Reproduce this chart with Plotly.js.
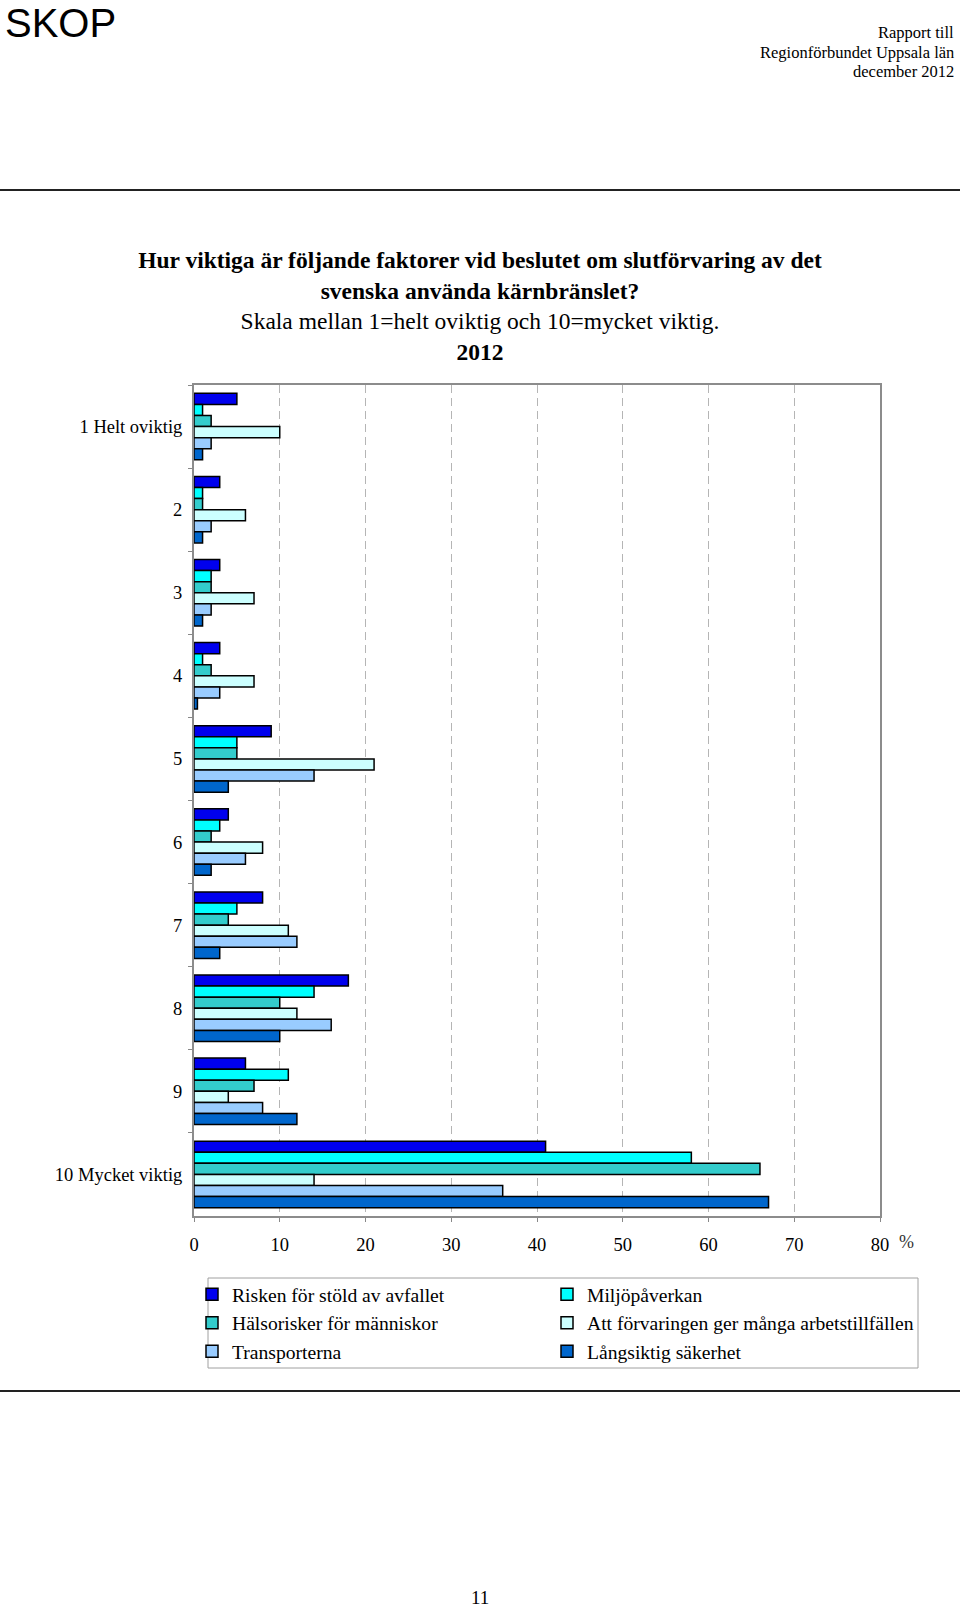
<!DOCTYPE html>
<html>
<head>
<meta charset="utf-8">
<script src="https://cdn.plot.ly/plotly-3.0.1.min.js"></script>
<style>
  html, body { margin: 0; padding: 0; background: #fff; }
  #chart { width: 960px; height: 1609px; }
</style>
</head>
<body>
<div id="chart"></div>
<script>
// ---- Data ----
const categories = ["1 Helt oviktig", "2", "3", "4", "5", "6", "7", "8", "9", "10 Mycket viktig"];
const seriesNames = [
  "Risken för stöld av avfallet",
  "Miljöpåverkan",
  "Hälsorisker för människor",
  "Att förvaringen ger många arbetstillfällen",
  "Transporterna",
  "Långsiktig säkerhet"
];
const risken     = [5, 3, 3, 3, 9, 4, 8, 18, 6, 41];
const miljo      = [1, 1, 2, 1, 5, 3, 5, 14, 11, 58];
const halso      = [2, 1, 2, 2, 5, 2, 4, 10, 7, 66];
const arbete     = [10, 6, 7, 7, 21, 8, 11, 12, 4, 14];
const transport  = [2, 2, 2, 3, 14, 6, 12, 16, 8, 36];
const langsiktig = [1, 1, 1, 0.4, 4, 2, 3, 10, 12, 67];
const xTicks = [0, 10, 20, 30, 40, 50, 60, 70, 80];

// ---- Style ----
const colors = ["#0000EE", "#00FFFF", "#33CCCC", "#CCFFFF", "#99CCFF", "#0066CC"];
const legendOf = ["legend", "legend2", "legend", "legend2", "legend", "legend2"];
const serif = "Liberation Serif, Times New Roman, serif";
const allSeries = [risken, miljo, halso, arbete, transport, langsiktig];

// plot-area geometry (pixels) and helpers to convert page pixels to paper coords
const L = 194, R = 880, T = 385, B = 1216;
const px = x => (x - L) / (R - L);
const py = y => (B - y) / (B - T);

const traces = allSeries.map((vals, i) => ({
  type: "bar",
  orientation: "h",
  name: seriesNames[i],
  legend: legendOf[i],
  y: categories,
  x: vals,
  marker: { color: colors[i], line: { color: "#000", width: 1.5 } },
  hoverinfo: "x+name"
}));

const legendStyle = (xPix) => ({
  orientation: "v",
  x: px(xPix), xanchor: "left",
  y: py(1275), yanchor: "top",
  font: { family: serif, size: 19.6, color: "#000" },
  bgcolor: "rgba(0,0,0,0)", borderwidth: 0,
  traceorder: "normal"
});

const layout = {
  width: 960,
  height: 1609,
  paper_bgcolor: "#fff",
  plot_bgcolor: "#fff",
  margin: { l: L, r: 960 - R, t: T, b: 1609 - B, autoexpand: false },
  barmode: "group",
  bargap: 0.2,
  bargroupgap: 0,
  font: { family: serif, color: "#000", size: 18 },
  title: {
    text: "<b>Hur viktiga är följande faktorer vid beslutet om slutförvaring av det<br>svenska använda kärnbränslet?</b><br>Skala mellan 1=helt oviktig och 10=mycket viktig.<br><b>2012</b>",
    font: { family: serif, size: 23.5, color: "#000" },
    xref: "container", x: 0.5, xanchor: "center",
    yref: "container", y: 1 - 268 / 1609, yanchor: "top"
  },
  xaxis: {
    range: [0, 80],
    tickvals: xTicks,
    ticktext: xTicks.map(String),
    ticks: "outside", ticklen: 4, tickcolor: "#888", tickwidth: 1,
    tickfont: { family: serif, size: 18.5, color: "#000" },
    ticklabelstandoff: 7,
    showgrid: true, gridcolor: "#b5b5b5", gridwidth: 1, griddash: "8px,5px",
    zeroline: false,
    showline: true, linecolor: "#8c8c8c", linewidth: 2, mirror: true,
    fixedrange: true, automargin: false
  },
  yaxis: {
    type: "category",
    categoryorder: "array", categoryarray: categories,
    autorange: "reversed",
    ticks: "outside", ticklen: 4, tickcolor: "#888", tickwidth: 1,
    tickson: "boundaries",
    tickfont: { family: serif, size: 18.5, color: "#000" },
    ticklabelstandoff: 6,
    showgrid: false, zeroline: false,
    showline: true, linecolor: "#8c8c8c", linewidth: 2, mirror: true,
    fixedrange: true, automargin: false
  },
  showlegend: true,
  legend: legendStyle(192),
  legend2: legendStyle(547),
  shapes: [
    { type: "rect", xref: "paper", yref: "paper", x0: px(208), x1: px(918), y0: py(1278), y1: py(1368),
      line: { color: "#a0a0a0", width: 1 }, fillcolor: "rgba(0,0,0,0)", layer: "below" },
    { type: "line", xref: "paper", yref: "paper", x0: px(0), x1: px(960), y0: py(190), y1: py(190),
      line: { color: "#222", width: 2 } },
    { type: "line", xref: "paper", yref: "paper", x0: px(0), x1: px(960), y0: py(1391), y1: py(1391),
      line: { color: "#222", width: 2 } }
  ],
  annotations: [
    { text: "SKOP", xref: "paper", yref: "paper", x: px(4), y: py(0), xanchor: "left", yanchor: "top",
      showarrow: false, borderpad: 0, font: { family: "Liberation Sans, Arial, sans-serif", size: 40, color: "#000" } },
    { text: "Rapport till", xref: "paper", yref: "paper", x: px(956), y: py(33), xanchor: "right", yanchor: "middle",
      showarrow: false, font: { family: serif, size: 16.5, color: "#000" } },
    { text: "Regionförbundet Uppsala län", xref: "paper", yref: "paper", x: px(956), y: py(52), xanchor: "right", yanchor: "middle",
      showarrow: false, font: { family: serif, size: 16.5, color: "#000" } },
    { text: "december 2012", xref: "paper", yref: "paper", x: px(956), y: py(72), xanchor: "right", yanchor: "middle",
      showarrow: false, font: { family: serif, size: 16.5, color: "#000" } },
    { text: "%", xref: "paper", yref: "paper", x: px(906), y: py(1242), xanchor: "center", yanchor: "middle",
      showarrow: false, font: { family: serif, size: 18, color: "#333" } },
    { text: "11", xref: "paper", yref: "paper", x: px(480), y: py(1597), xanchor: "center", yanchor: "middle",
      showarrow: false, font: { family: serif, size: 19, color: "#000" } }
  ]
};

Plotly.newPlot("chart", traces, layout, { displayModeBar: false, staticPlot: true });
</script>
</body>
</html>
